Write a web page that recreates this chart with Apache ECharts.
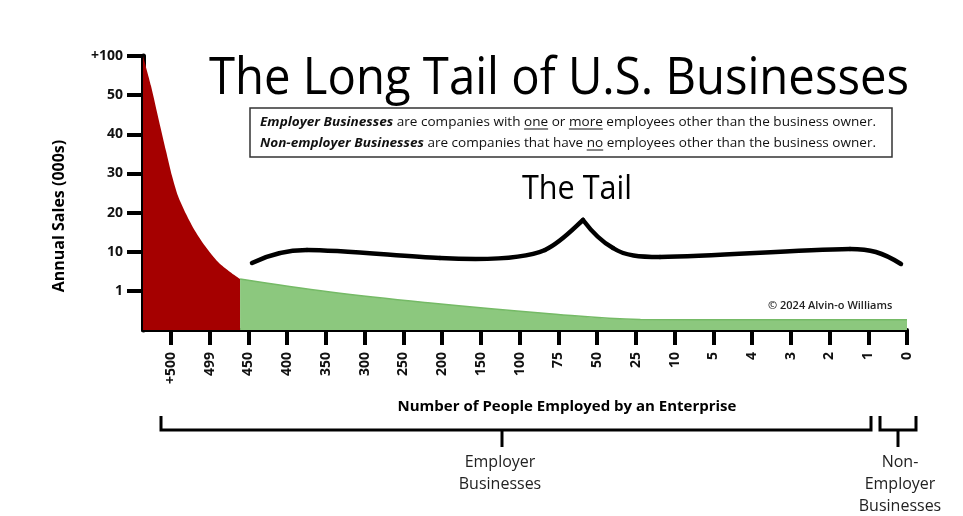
<!DOCTYPE html>
<html><head><meta charset="utf-8">
<script src="https://cdn.jsdelivr.net/npm/echarts@6/dist/echarts.min.js"></script>
<style>html,body{margin:0;padding:0;background:#fff}#c{width:963px;height:516px}</style>
</head><body><div id="c"></div>
<script>
// Tick labels
const xLabels = ['+500','499','450','400','350','300','250','200','150','100','75','50','25','10','5','4','3','2','1','0'];
const yLabels = ['', '1', '10', '20', '30', '40', '50', '+100'];
// Head of the distribution (large employers) – position on the employee scale (tick index units), sales level (ordinal sales scale)
const headPos   = [-0.720, -0.513, -0.307, -0.126, 0.029, 0.184, 0.391, 0.624, 0.882, 1.218, 1.528, 1.786];
const headSales = [7.000, 6.234, 5.340, 4.573, 3.934, 3.423, 2.963, 2.529, 2.146, 1.737, 1.482, 1.303];
// The long tail
const tailPos   = [1.786, 4.11, 6.70, 9.62, 12.12, 15.0, 19.0];
const tailSales = [1.303, 0.97, 0.69, 0.43, 0.27, 0.26, 0.26];

const FONT = '"Open Sans", "Noto Sans", sans-serif';
const ctx = document.createElement('canvas').getContext('2d');
function tw(text, font) { ctx.font = font; return ctx.measureText(text).width; }

const chart = echarts.init(document.getElementById('c'), null, {renderer: 'canvas'});

const graphics = [];
// Title, fitted to the reference width
(function () {
  const t = 'The Long Tail of U.S. Businesses';
  const f = '52px ' + FONT;
  const s = 700 / tw(t, f);
  graphics.push({type: 'text', x: 209, y: 79, scaleX: s,
    style: {text: t, font: f, fill: '#000', align: 'left', verticalAlign: 'middle'}});
})();
// Definition box
graphics.push({type: 'rect', shape: {x: 250, y: 108, width: 642, height: 49},
  style: {fill: 'none', stroke: '#333', lineWidth: 1.5}});
function boxLine(segs, y) {
  const base = 13;
  let total = 0;
  segs.forEach(sg => { sg.font = (sg.b ? 'italic bold ' : '') + base + 'px ' + FONT; sg.w = tw(sg.t, sg.font); total += sg.w; });
  const s = 616 / total;
  let x = 260;
  segs.forEach(sg => {
    graphics.push({type: 'text', x: x, y: y, scaleX: s,
      style: {text: sg.t, font: sg.font, fill: '#111', align: 'left', verticalAlign: 'middle'}});
    if (sg.u) {
      graphics.push({type: 'line', shape: {x1: x, y1: y + 7, x2: x + sg.w * s, y2: y + 7},
        style: {stroke: '#111', lineWidth: 1}});
    }
    x += sg.w * s;
  });
}
boxLine([{t: 'Employer Businesses', b: 1}, {t: ' are companies with '}, {t: 'one', u: 1}, {t: ' or '},
         {t: 'more', u: 1}, {t: ' employees other than the business owner.'}], 122);
boxLine([{t: 'Non-employer Businesses', b: 1}, {t: ' are companies that have '}, {t: 'no', u: 1},
         {t: ' employees other than the business owner.'}], 143);
// "The Tail" label and brace
(function () {
  const t = 'The Tail';
  const f = '32px ' + FONT;
  const s = 110 / tw(t, f);
  graphics.push({type: 'text', x: 577 - 55, y: 190, scaleX: s,
    style: {text: t, font: f, fill: '#000', align: 'left', verticalAlign: 'middle'}});
})();
const braceSegs = [
  [252,263, 268,255, 285,250, 307,250],
  [307,250, 340,250, 400,256, 440,258],
  [440,258, 480,260, 525,259, 545,250],
  [545,250, 560,243, 572,230, 583,220],
  [583,220, 592,232, 602,242, 613,248],
  [613,248, 625,256, 640,257, 660,257],
  [660,257, 720,256, 790,250, 850,249],
  [850,249, 870,249, 882,252, 901,264]
];
braceSegs.forEach(b => graphics.push({type: 'bezierCurve',
  shape: {x1: b[0], y1: b[1], cpx1: b[2], cpy1: b[3], cpx2: b[4], cpy2: b[5], x2: b[6], y2: b[7]},
  style: {fill: null, stroke: '#000', lineWidth: 4.5, lineCap: 'round'}}));
// Copyright
graphics.push({type: 'text', x: 768, y: 306,
  style: {text: '\u00A9 2024 Alvin-o Williams', font: '600 11px ' + FONT, fill: '#222', align: 'left', verticalAlign: 'middle'}});
// Brackets
graphics.push({type: 'polyline', shape: {points: [[161, 416], [161, 430], [871, 430], [871, 416]]},
  style: {fill: null, stroke: '#000', lineWidth: 3}});
graphics.push({type: 'line', shape: {x1: 502, y1: 430, x2: 502, y2: 447}, style: {stroke: '#000', lineWidth: 3}});
graphics.push({type: 'polyline', shape: {points: [[880, 416], [880, 430], [916, 430], [916, 416]]},
  style: {fill: null, stroke: '#000', lineWidth: 3}});
graphics.push({type: 'line', shape: {x1: 898, y1: 430, x2: 898, y2: 447}, style: {stroke: '#000', lineWidth: 3}});
graphics.push({type: 'text', x: 500, y: 473,
  style: {text: 'Employer\nBusinesses', font: '16px ' + FONT, lineHeight: 22, fill: '#222', align: 'center', verticalAlign: 'middle'}});
graphics.push({type: 'text', x: 900, y: 484,
  style: {text: 'Non-\nEmployer\nBusinesses', font: '16px ' + FONT, lineHeight: 22, fill: '#222', align: 'center', verticalAlign: 'middle'}});

const idx = xLabels.map((_, i) => i);
const yIdx = yLabels.map((_, i) => i).slice(1);

chart.setOption({
  animation: false,
  backgroundColor: '#fff',
  grid: {left: 143, right: 56, top: 56, bottom: 186},
  xAxis: {
    type: 'value', min: -0.72, max: 19,
    splitLine: {show: false},
    axisLine: {show: true, onZero: false, lineStyle: {color: '#000', width: 4}},
    axisTick: {show: true, customValues: idx, length: 15, lineStyle: {color: '#000', width: 4}},
    axisLabel: {customValues: idx, rotate: 90, margin: 22, color: '#111', fontFamily: FONT, fontWeight: 'bold', fontSize: 14,
      formatter: v => xLabels[Math.round(v)]},
    name: 'Number of People Employed by an Enterprise', nameLocation: 'middle', nameGap: 69,
    nameTextStyle: {color: '#000', fontFamily: FONT, fontWeight: 'bold', fontSize: 15, padding: [0, 0, 0, 84]}
  },
  yAxis: {
    type: 'value', min: 0, max: 7,
    splitLine: {show: false},
    axisLine: {show: true, onZero: false, lineStyle: {color: '#000', width: 5}},
    axisTick: {show: true, customValues: yIdx, length: 16, lineStyle: {color: '#000', width: 4}},
    axisLabel: {customValues: yIdx, margin: 20, color: '#111', fontFamily: FONT, fontWeight: 'bold', fontSize: 14,
      formatter: v => yLabels[Math.round(v)]},
    name: 'Annual Sales (000s)', nameLocation: 'middle', nameGap: 76, nameRotate: 90,
    nameTextStyle: {color: '#000', fontFamily: FONT, fontWeight: 'bold', fontSize: 16, padding: [0, 46, 0, 0]}
  },
  series: [
    {type: 'line', name: 'Head', data: headPos.map((x, i) => [x, headSales[i]]), smooth: 0.25,
      symbol: 'none', lineStyle: {width: 0}, areaStyle: {color: '#a50000', opacity: 1}, z: 1},
    {type: 'line', name: 'Tail', data: tailPos.map((x, i) => [x, tailSales[i]]), smooth: 0.4,
      symbol: 'none', lineStyle: {width: 1.5, color: '#75ba66'}, areaStyle: {color: '#8cc87e', opacity: 1}, z: 1}
  ],
  graphic: graphics
});
</script></body></html>
